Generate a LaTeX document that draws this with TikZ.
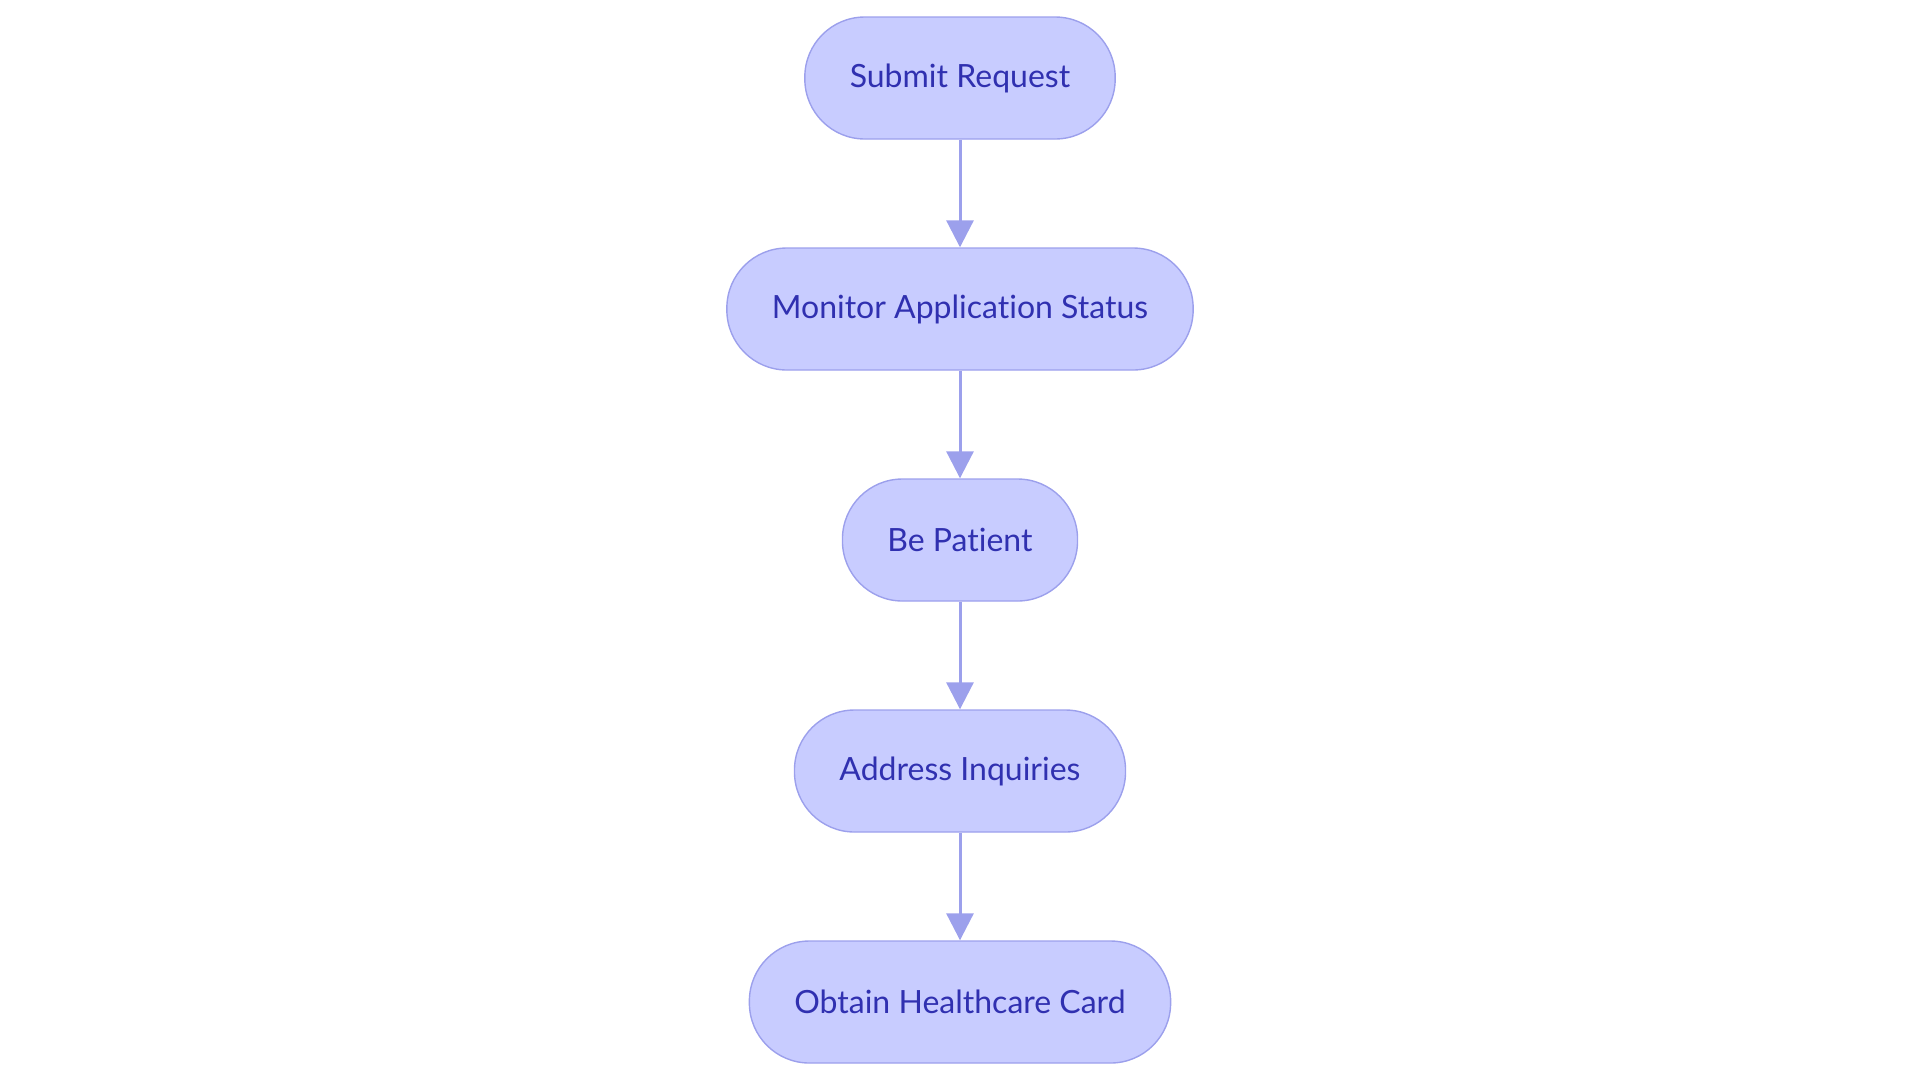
\documentclass[tikz,border=0pt]{standalone}
\usepackage{fontspec}
\setmainfont{Lato}[Ligatures={NoCommon}]
\usetikzlibrary{arrows.meta}
\definecolor{stepfill}{RGB}{200,204,255}
\definecolor{stepline}{RGB}{156,160,236}
\definecolor{steptext}{RGB}{48,48,176}
\tikzset{
  stepbox/.style={rectangle,rounded corners=30pt,draw=stepline,line width=0.7pt,fill=stepfill,
    text=steptext,font=\fontsize{16}{19}\selectfont,minimum height=61pt,inner xsep=22.5pt},
  flow/.style={draw=stepline,line width=1.5pt,-{Triangle[width=13.5pt,length=13.5pt]}}
}
\begin{document}
\begin{tikzpicture}[y=-115.5pt]
\useasboundingbox (-480pt,39pt) rectangle (480pt,-502.5pt);
\node[stepbox] (submit) at (0,0) {Submit Request};
\node[stepbox] (monitor) at (0,1) {Monitor Application Status};
\draw[flow] (submit)--(monitor);
\node[stepbox] (patient) at (0,2) {Be Patient};
\draw[flow] (monitor)--(patient);
\node[stepbox] (inquiries) at (0,3) {Address Inquiries};
\draw[flow] (patient)--(inquiries);
\node[stepbox] (card) at (0,4) {Obtain Healthcare Card};
\draw[flow] (inquiries)--(card);
\end{tikzpicture}
\end{document}
